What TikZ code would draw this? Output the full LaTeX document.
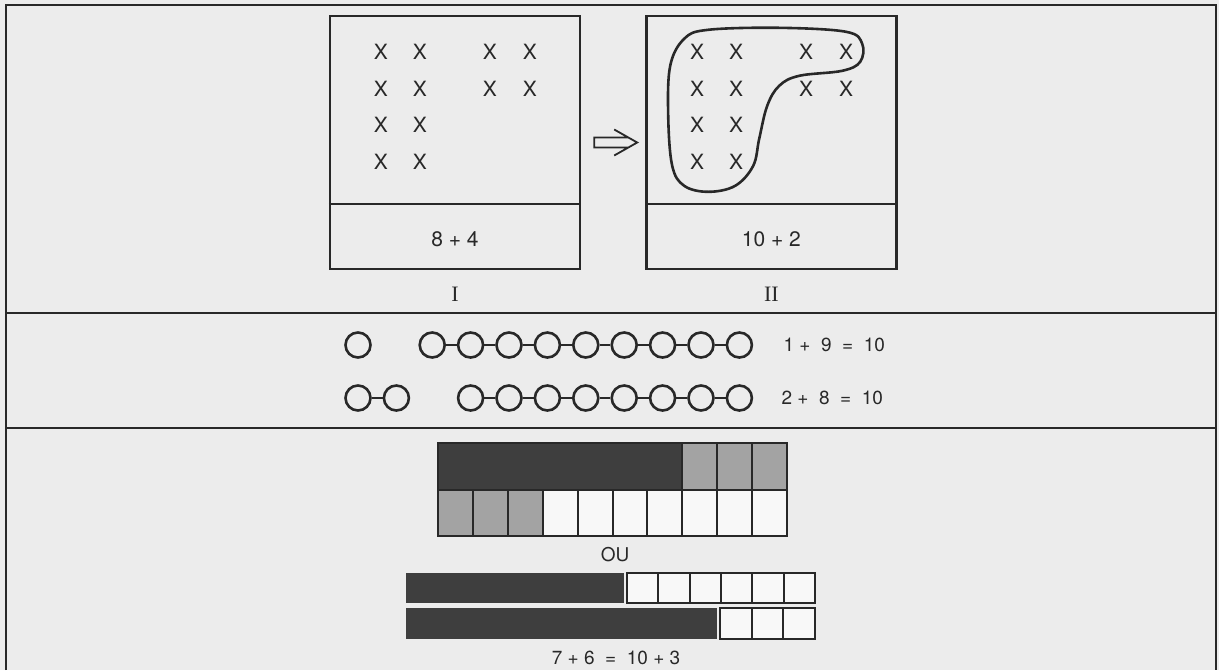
\documentclass[tikz,border=0pt]{standalone}
\usepackage{fontspec}
\setmainfont{TeX Gyre Heros}
\newfontfamily\romain{Liberation Serif}
\usetikzlibrary{positioning}
\definecolor{papier}{RGB}{236,236,236}
\definecolor{encre}{RGB}{40,40,40}
\definecolor{fonce}{RGB}{62,62,62}
\definecolor{trame}{RGB}{163,163,163}
\definecolor{blanc}{RGB}{248,248,248}

\begin{document}
\begin{tikzpicture}[x=0.5pt, y=-0.5pt,
    cadre/.style={draw=encre, line width=1pt},
    boite/.style={rectangle, draw=encre, line width=1.2pt, minimum width=125pt, minimum height=126.5pt, inner sep=0pt},
    croix/.style={font=\fontsize{10.5}{12}\selectfont, text=encre, inner sep=0pt},
    somme/.style={font=\fontsize{10.5}{12}\selectfont, text=encre, inner sep=0pt},
    calcul/.style={font=\fontsize{9.5}{11}\selectfont, text=encre, inner sep=0pt},
    numero/.style={font=\romain\fontsize{11}{12}\selectfont, text=encre, inner sep=0pt},
    anneau/.style={circle, draw=encre, line width=1.3pt, minimum size=12.5pt, inner sep=0pt},
    lien/.style={draw=encre, line width=1pt},
    cellule/.style={draw=encre, line width=1pt},
    fleche/.style={draw=encre, line width=0.9pt, line join=miter}
]
\path[fill=papier, use as bounding box] (0,0) rectangle (1219,670);

% Cadre
\draw[cadre] (6,670) -- (6,5) -- (1216,5) -- (1216,670);
\draw[cadre] (6,313) -- (1216,313);
\draw[cadre] (6,428) -- (1216,428);

% Boites I et II
\node[boite] (boiteI) at (455,142.5) {};
\node[boite, right=32pt of boiteI] (boiteII) {};
\draw[cadre, line width=1.2pt] ([yshift=33pt]boiteI.south west) -- ([yshift=33pt]boiteI.south east);
\draw[cadre, line width=1.2pt] ([yshift=33pt]boiteII.south west) -- ([yshift=33pt]boiteII.south east);

\foreach \c/\r in {52/37, 91/37, 161/37, 201/37, 52/74, 91/74, 161/74, 201/74, 52/110, 91/110, 52/147, 91/147} {
  \node[croix] (xI-\c-\r) at ([shift={(\c,\r)}]boiteI.north west) {X};
  \node[croix] (xII-\c-\r) at ([shift={(\c,\r)}]boiteII.north west) {X};
}

\node[somme] (sommeI) at ([yshift=15.5pt]boiteI.south) {8 + 4};
\node[somme] (sommeII) at ([yshift=15.5pt]boiteII.south) {10 + 2};
\node[numero, below=8pt of boiteI] (nomI) {I};
\node[numero, below=8pt of boiteII] (nomII) {II};

% Regroupement de dix
\draw[encre, line width=1.3pt, shift={(boiteII.north west)}] plot[smooth cycle, tension=0.6] coordinates {
  (25,51) (39,24) (63,15) (134,13) (201,17) (217,29) (215,47) (197,56) (154,61)
  (134,71) (122,91) (114,124) (108,151) (90,171) (63,177) (39,171) (27,151) (23,101)};

% Fleche
\coordinate (flecheD) at ([xshift=6.5pt]boiteI.east);
\draw[fleche, shift={(flecheD)}] (34,-5) -- (0,-5) -- (0,5) -- (34,5) (20,-13) -- (43,0) -- (20,13);

% Anneaux
\node[anneau] (r1-0) at (358,345) {};
\node[anneau, right=23.3pt of r1-0] (r1-2) {};
\foreach \i [count=\p from 2] in {3,...,10}
  \node[anneau, right=5.4pt of r1-\p] (r1-\i) {};
\foreach \i [count=\s from 3] in {2,...,9}
  \draw[lien] (r1-\i) -- (r1-\s);
\node[calcul, right=15pt of r1-10] (egal1) {1 + \ 9 \ = \ 10};

\node[anneau] (r2-0) at (358,398) {};
\node[anneau, right=5.4pt of r2-0] (r2-1) {};
\draw[lien] (r2-0) -- (r2-1);
\node[anneau, right=23.3pt of r2-1] (r2-3) {};
\foreach \i [count=\p from 3] in {4,...,10}
  \node[anneau, right=5.4pt of r2-\p] (r2-\i) {};
\foreach \i [count=\s from 4] in {3,...,9}
  \draw[lien] (r2-\i) -- (r2-\s);
\node[calcul, right=14pt of r2-10] (egal2) {2 + \ 8 \ = \ 10};

% Reglettes
\fill[fonce] (438,443) rectangle (682.3,490);
\foreach \i in {7,8,9}
  \filldraw[cellule, fill=trame] (438+\i*34.9,443) rectangle ++(34.9,47);
\foreach \i in {0,1,2}
  \filldraw[cellule, fill=trame] (438+\i*34.9,490) rectangle ++(34.9,46);
\foreach \i in {3,...,9}
  \filldraw[cellule, fill=blanc] (438+\i*34.9,490) rectangle ++(34.9,46);
\draw[cellule] (438,443) rectangle (787,536);

\node[calcul] (ou) at (615,555) {OU};

\fill[fonce] (406,573) rectangle (624,603);
\foreach \i in {0,...,5}
  \filldraw[cellule, fill=blanc] (627+\i*31.3,573) rectangle ++(31.3,30);
\fill[fonce] (406,608) rectangle (717,639);
\foreach \i in {0,1,2}
  \filldraw[cellule, fill=blanc] (720+\i*31.7,608) rectangle ++(31.7,31);

\node[calcul] (egal3) at (616,658) {7 + 6 \ = \ 10 + 3};
\end{tikzpicture}
\end{document}
